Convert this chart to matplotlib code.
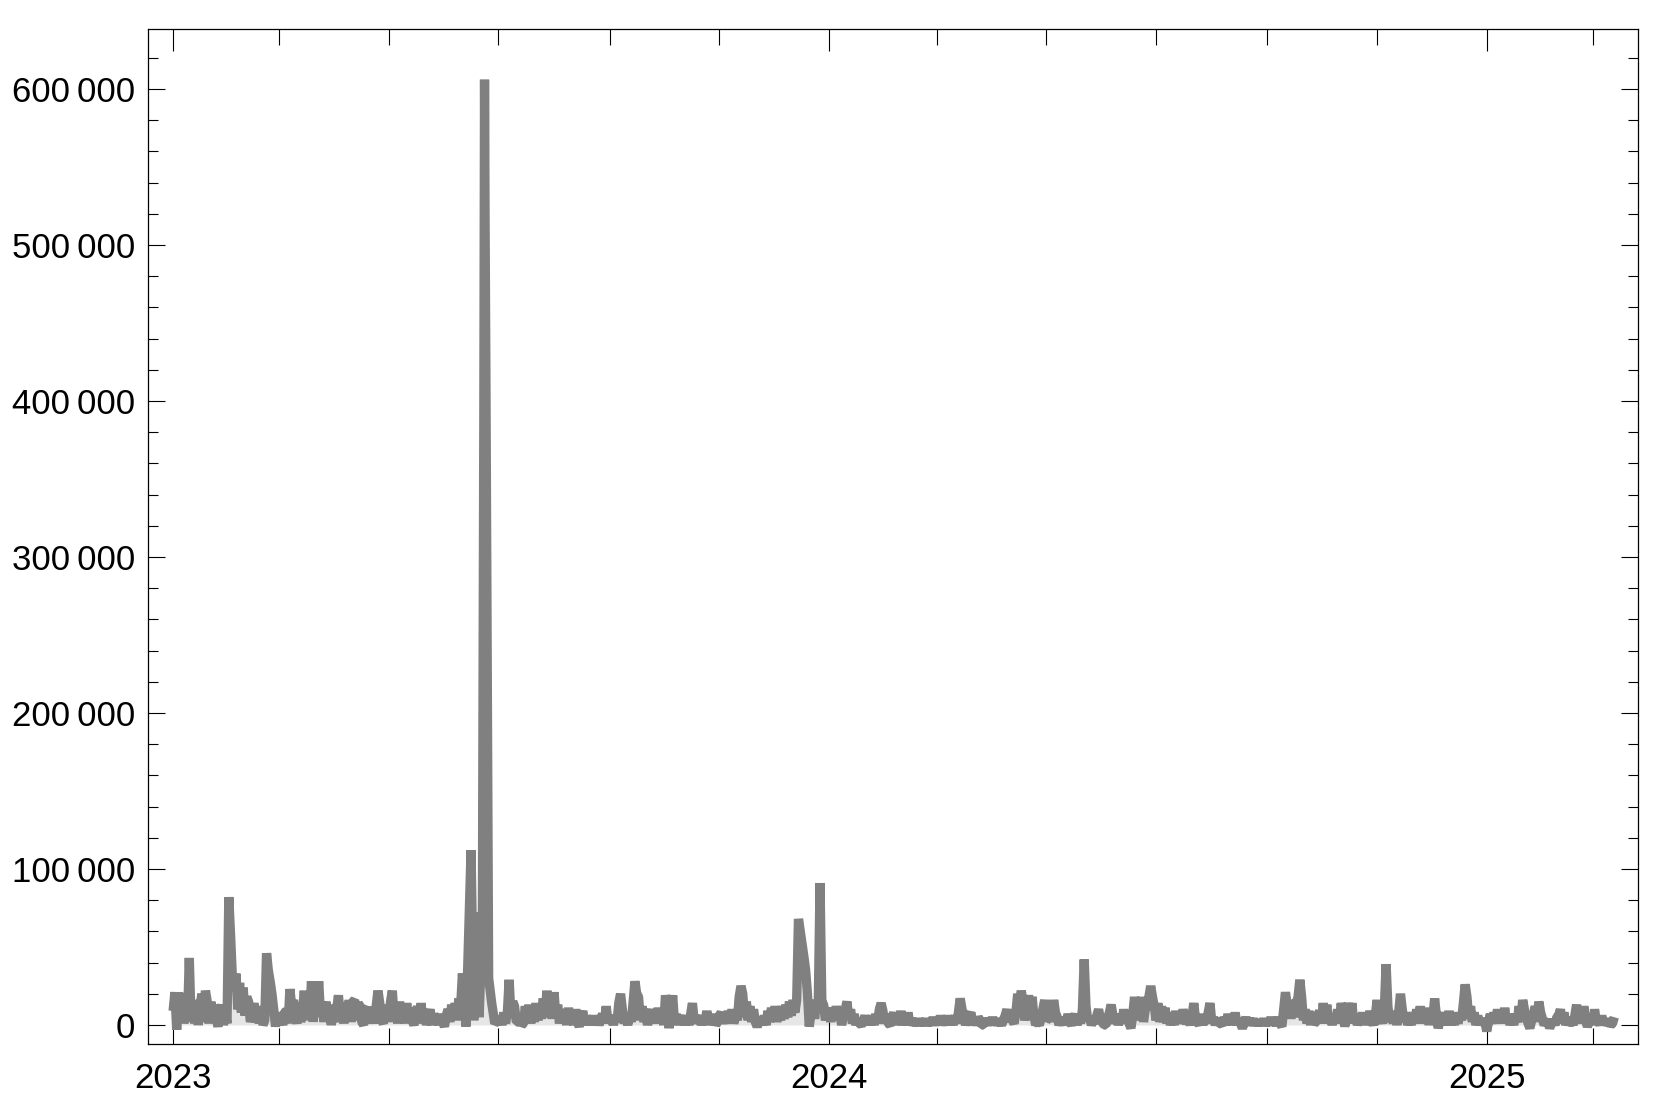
import matplotlib
matplotlib.use("Agg")
import matplotlib.pyplot as plt
import matplotlib.dates as mdates
from matplotlib.ticker import MultipleLocator, FuncFormatter
import pandas as pd

plt.rcParams['font.family'] = ['Liberation Sans', 'DejaVu Sans']

# ---- data (values in thousands) ----
start_date = "2023-01-01"

# daily values, days 0..163 after start_date
values_before_spike = [
    9, 21, -3, 21, 2, 20, 1, 14, 2, 43,
    3, 16, 1, 14, 0, 12, 20, 2, 22, 15,
    1, 15, 2, 13, 4, -1, 8, 13, 0, 8,
    1, 82, 57, 30, 22, 33, 10, 27, 8, 24,
    6, 18, 15, 2, 6, 14, 3, 12, 1, 10,
    0, 3, 46, 35, 28, 20, 10, -1, 8, 0,
    7, 0, 8, 9, 1, 23, 12, 16, 6, 1,
    14, 2, 8, 22, 3, 20, 6, 28, 2, 24,
    5, 28, 8, 15, 2, 15, 3, 13, 0, 9,
    2, 10, 19, 6, 12, 1, 14, 3, 16, 2,
    15, 16, 3, 14, 12, 2, 0, 10, 11, 1,
    9, 10, 1, 12, 22, 14, 3, 1, 10, 12,
    2, 15, 22, 4, 13, 1, 15, 2, 13, 1,
    14, 2, 11, 3, 0, 6, 12, 1, 14, 2,
    9, 0, 6, 10, 0, 7, 4, 6, 0, 7,
    2, -1, 6, 10, 2, 13, 4, 14, 3, 17,
    12, 33, 15, -1,
]

# the big spike (late June 2023), irregular time stamps
spike_days = [165.8, 167.3, 168.8, 170.3, 172.1, 172.9, 173.3, 173.6, 174.1, 175.6, 177.3, 179]
spike_values = [112, 3, 72, 5, 66, 390, 606, 517, 410, 30, 14, 1]

# daily values, days 181..802 after start_date
values_after_spike = [
    3, 5, 0, 8, 1, 8, 29, 6, 15, 12,
    2, 2, 5, 0, 1, 12, 2, 13, 1, 11,
    2, 14, 3, 12, 4, 17, 5, 22, 6, 16,
    4, 21, 5, 13, 1, 10, 2, 9, 0, 11,
    1, 8, 0, 10, 2, -1, 5, 9, 0, 6,
    0, 5, 0, 6, 0, 5, 0, 4, 7, 1,
    12, 2, 3, 6, 0, 6, 2, 14, 20, 10,
    1, 5, 0, 6, 2, 15, 28, 20, 18, 3,
    12, 2, 8, 0, 6, 10, 1, 9, 1, 11,
    2, 8, 0, 19, 12, -2, 10, 19, 2, 7,
    0, 6, 1, 6, 0, 5, 0, 7, 14, 2,
    6, 1, 6, 0, 5, 1, 9, 0, 6, 1,
    7, 0, 2, 6, 8, 1, 7, 1, 9, 2,
    10, 1, 6, 3, 18, 25, 20, 5, 15, 3,
    12, 2, 10, 2, -1, 2, 4, 0, 6, 0,
    9, 2, 11, 3, 12, 2, 10, 3, 12, 4,
    13, 5, 15, 6, 16, 8, 16, 68, 60, 52,
    44, 35, 20, -1, 8, 14, 4, 16, 12, 91,
    15, 13, 3, 9, 10, 2, 11, 3, 12, 5,
    8, 0, 6, 10, 15, 4, 10, 1, 7, 0,
    4, 1, 0, 2, 6, 0, 5, 0, 6, 0,
    7, 1, 10, 14, 9, 1, 7, 1, 0, 4,
    8, 0, 7, 1, 9, 0, 6, 0, 8, 0,
    4, 0, 3, 0, 4, 0, 3, 0, 4, 0,
    3, 0, 5, 0, 4, 0, 6, 0, 4, 0,
    6, 0, 5, 0, 6, 1, 8, 17, 10, 6,
    0, 4, 6, 8, 0, 4, 0, 5, 3, 0,
    0, 4, 0, 4, 0, 5, 0, 4, 0, 3,
    0, 3, 6, 10, 2, 9, 3, 1, 8, 20,
    12, 22, 14, 3, 10, 19, 8, 18, 6, 0,
    2, 0, 4, 10, 16, 3, 4, 9, 2, 16,
    8, 5, 0, 4, 0, 5, 1, 7, 2, 0,
    4, 7, 0, 5, 1, 10, 42, 12, 3, 5,
    0, 3, 1, 6, 10, 4, 2, 0, 0, 4,
    8, 13, 6, 1, 7, 0, 5, 1, 10, 2,
    8, 1, -2, 6, 18, 4, 15, 3, 18, 2,
    10, 12, 18, 25, 18, 12, 3, 14, 2, 12,
    2, 11, 1, 8, 0, 5, 0, 9, 1, 7,
    1, 10, 4, 1, 4, 0, 6, 14, 3, 2,
    0, 7, 0, 5, 1, 8, 14, 2, 5, 0,
    4, 1, 1, 0, 5, 0, 7, 1, 6, 0,
    8, 0, 4, 1, -2, 1, 5, 0, 4, 0,
    4, 0, 3, 0, 3, 0, 4, 0, 3, 0,
    5, 0, 3, 0, 5, 1, -1, 10, 21, 12,
    16, 4, 15, 5, 14, 18, 29, 18, 3, 10,
    1, 9, 0, 8, 1, 2, 6, 9, 1, 14,
    3, 13, 1, 6, 0, 7, 1, 10, 2, 14,
    8, -1, 6, 14, 3, 14, 1, 7, 0, 4,
    1, 8, 0, 6, 1, 9, 3, 0, 6, 16,
    4, 5, 1, 10, 39, 12, 2, 7, 1, 9,
    0, 8, 20, 10, 2, 8, 0, 5, 0, 8,
    1, 10, 2, 12, 1, 9, 1, 11, 0, 9,
    4, 17, 6, -2, 3, 8, 0, 7, 0, 9,
    0, 6, 0, 8, 1, 7, 3, 14, 26, 18,
    4, 12, 2, 8, 0, 6, 0, 4, 1, 2,
    -4, 2, 7, 1, 8, 1, 10, 2, 9, 1,
    11, 1, 7, 0, 5, 0, 7, 2, 12, 2,
    16, 10, 5, 1, -2, 3, 6, 12, 2, 15,
    8, 4, 0, 2, 3, -2, 1, 3, 0, 5,
    6, 10, 1, 8, 0, 5, 0, 3, 0, 6,
    13, 2, 8, 1, 12, 3, -1, 2, 6, 0,
    10, 2, 3, 0, 6, 0, 4, 0, 2, 0,
    1, 5,
]

year_labels = ["2023", "2024", "2025"]
y_major_ticks = [0, 100000, 200000, 300000, 400000, 500000, 600000]

days = (list(range(0, len(values_before_spike)))
        + spike_days
        + list(range(181, 181 + len(values_after_spike))))
values_k = values_before_spike + spike_values + values_after_spike

dates = pd.Timestamp(start_date) + pd.to_timedelta(days, unit="D")
values = [v * 1000 for v in values_k]

# ---- figure ----
fig = plt.figure(figsize=(16.64, 11.19), dpi=100)
ax = fig.add_axes([0.0888, 0.0670, 0.8956, 0.9071])

ax.fill_between(dates, values, 0, color="#e6e6e6", lw=0, zorder=1)
ax.plot(dates, values, color="#808080", lw=6.7, solid_joinstyle="bevel",
        solid_capstyle="butt", zorder=2)

t0 = pd.Timestamp(start_date)
ax.set_xlim(t0 - pd.Timedelta(days=14.1), t0 + pd.Timedelta(days=815.2))
ax.set_ylim(-12200, 638500)

ax.xaxis.set_major_locator(mdates.YearLocator())
ax.xaxis.set_major_formatter(mdates.DateFormatter("%Y"))
ax.xaxis.set_minor_locator(mdates.MonthLocator(bymonth=[3, 5, 7, 9, 11]))

ax.set_yticks(y_major_ticks)
ax.yaxis.set_minor_locator(MultipleLocator(20000))


def yfmt(v, pos):
    s = f"{int(round(v)):,}"
    return s.replace(",", "\u2009")


ax.yaxis.set_major_formatter(FuncFormatter(yfmt))

ax.tick_params(axis="both", which="both", direction="in", top=True, right=True,
               width=0.8, color="black", labelsize=25, labelcolor="black")
ax.tick_params(axis="x", which="major", length=16, pad=13)
ax.tick_params(axis="x", which="minor", length=11.5)
ax.tick_params(axis="y", which="major", length=12.2, pad=9)
ax.tick_params(axis="y", which="minor", length=7.2)

for sp in ax.spines.values():
    sp.set_linewidth(0.9)
    sp.set_color("black")

fig.savefig("out.png", dpi=100)
